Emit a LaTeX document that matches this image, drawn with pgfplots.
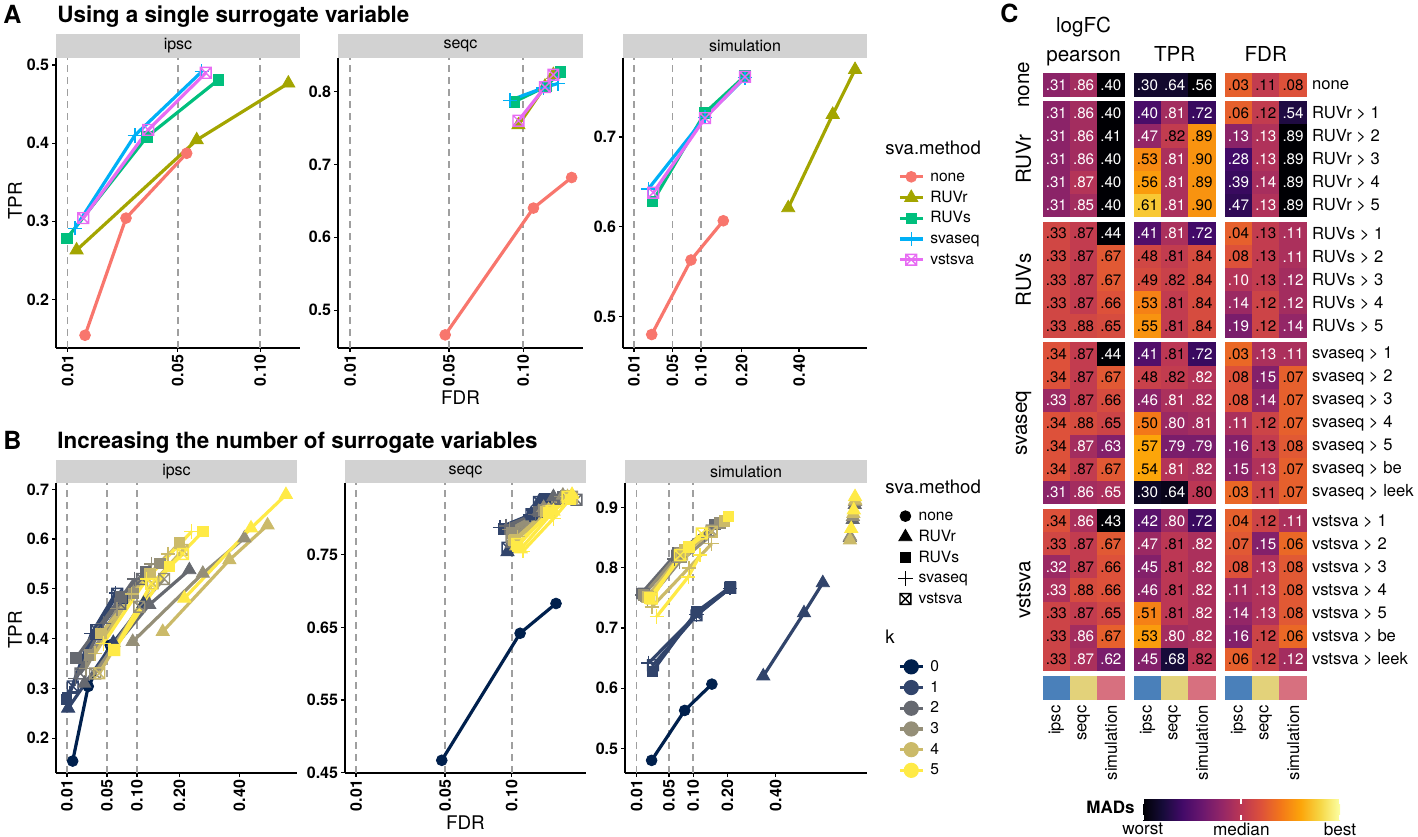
\documentclass[border=0pt]{standalone}
\usepackage{pgfplots}
\pgfplotsset{compat=1.18}
\usepackage{pgfplotstable}
\usepackage{fontspec}
\setmainfont{TeX Gyre Heros}

\definecolor{stripgray}{HTML}{D2D2D2}
\definecolor{cnone}{HTML}{F8766D}
\definecolor{cruvr}{HTML}{A3A500}
\definecolor{cruvs}{HTML}{00BF7D}
\definecolor{csva}{HTML}{00B0F6}
\definecolor{cvst}{HTML}{E76BF3}
\definecolor{k0c}{HTML}{00204D}
\definecolor{k1c}{HTML}{31446B}
\definecolor{k2c}{HTML}{666970}
\definecolor{k3c}{HTML}{958F78}
\definecolor{k4c}{HTML}{CBBA69}
\definecolor{k5c}{HTML}{FFEA46}
\definecolor{ipscb}{HTML}{4A80BA}
\definecolor{seqcy}{HTML}{E3D27A}
\definecolor{simp}{HTML}{D7707F}

\newcommand\tickf{\fontsize{8}{9}\selectfont\bfseries}
\newcommand\stripf{\fontsize{8}{9}\selectfont}
\newcommand\labf{\fontsize{9.4}{11}\selectfont}
\newcommand\legf{\fontsize{7.8}{9}\selectfont}
\newcommand\legtf{\fontsize{9.3}{11}\selectfont}
\newcommand\titf{\fontsize{11.2}{13}\selectfont\bfseries}
\newcommand\letf{\fontsize{12.5}{14}\selectfont\bfseries}
\newcommand\hmf{\fontsize{7.6}{9}\selectfont}
\newcommand\hml{\fontsize{8.3}{10}\selectfont}
\newcommand\hmh{\fontsize{10.3}{12}\selectfont}
\newcommand\cbf{\fontsize{8.6}{10}\selectfont}

\pgfdeclareplotmark{sqx}{%
  \pgfpathrectangle{\pgfqpoint{-\pgfplotmarksize}{-\pgfplotmarksize}}{\pgfqpoint{2\pgfplotmarksize}{2\pgfplotmarksize}}%
  \pgfpathmoveto{\pgfqpoint{-\pgfplotmarksize}{-\pgfplotmarksize}}%
  \pgfpathlineto{\pgfqpoint{\pgfplotmarksize}{\pgfplotmarksize}}%
  \pgfpathmoveto{\pgfqpoint{-\pgfplotmarksize}{\pgfplotmarksize}}%
  \pgfpathlineto{\pgfqpoint{\pgfplotmarksize}{-\pgfplotmarksize}}%
  \pgfusepathqstroke}
\pgfdeclareplotmark{cell}{%
  \pgfpathrectangle{\pgfqpoint{-6.85pt}{-5.83pt}}{\pgfqpoint{13.7pt}{11.66pt}}%
  \pgfusepathqfill}

\pgfplotsset{
  /pgf/number format/assume math mode=true,
  colormap={inferno}{rgb255=(0,0,4) rgb255=(22,11,57) rgb255=(66,10,104) rgb255=(106,23,110) rgb255=(147,38,103) rgb255=(188,55,84) rgb255=(221,81,58) rgb255=(243,120,25) rgb255=(252,165,10) rgb255=(246,215,70) rgb255=(252,255,164)},
  facet/.style={
    scale only axis, clip=false,
    axis lines=left, axis line style={-, line width=0.75pt, black},
    tick align=outside, major tick length=1.8pt,
    tick style={black, line width=0.6pt},
    x coord trafo/.code={\pgfmathparse{sqrt(##1)}},
    xticklabel style={rotate=90, anchor=east, font=\tickf, inner sep=1.5pt},
    yticklabel style={font=\tickf, inner sep=1.5pt},
    extra x ticks={0.01,0.05,0.1}, extra x tick labels={},
    extra x tick style={grid=major, major tick length=0pt},
    major grid style={gray!75, line width=0.8pt, dash pattern=on 3.4pt off 2.6pt},
    ylabel style={font=\labf, anchor=center},
    xlabel style={font=\labf, anchor=center},
    every axis title shift=0pt,
    title style={at={(0.5,1)}, anchor=south, fill=stripgray, inner sep=0pt, outer sep=0pt, font=\stripf},
    legend image code/.code={\draw[mark repeat=2, mark phase=2, ##1] plot coordinates {(0pt,0pt) (5.75pt,0pt) (11.5pt,0pt)};},
    legend style={draw=none, fill=none, inner sep=0pt, outer sep=0pt, font=\legf, row sep=2.85pt,
      nodes={inner xsep=3pt, inner ysep=0pt, text height=6pt, text depth=1.5pt}},
    legend cell align=left,
  },
  strip/.style n args={3}{title={#1}, title style={minimum width=#2, minimum height=#3}},
  ln/.style={line width=1.6pt, forget plot},
  mnone/.style={mark=*, mark size=2.7pt, mark options={line width=0.4pt, solid}},
  mruvr/.style={mark=triangle*, mark size=3.8pt, mark options={line width=0.4pt, solid}},
  mruvs/.style={mark=square*, mark size=2.6pt, mark options={line width=0.4pt, solid}},
  msva/.style={mark=+, mark size=3.6pt, mark options={line width=0.7pt, solid}},
  mvst/.style={mark=sqx, mark size=2.7pt, mark options={line width=0.7pt, solid}},
}

% x y m(colour value 0 worst..1 best) w(1 = white text) lbl
\pgfplotstableread{
x y m w lbl
0.5 0.5 0.38 1 .31
1.5 0.5 0.44 1 .86
2.5 0.5 0.00 1 .40
3.842 0.5 0.08 1 .30
4.842 0.5 0.08 1 .64
5.842 0.5 0.00 1 .56
7.184 0.5 0.64 0 .03
8.184 0.5 0.52 0 .11
9.184 0.5 0.60 0 .08
0.5 1.72 0.38 1 .31
1.5 1.72 0.44 1 .86
2.5 1.72 0.00 1 .40
3.842 1.72 0.22 1 .40
4.842 1.72 0.44 1 .81
5.842 1.72 0.18 1 .72
7.184 1.72 0.64 0 .06
8.184 1.72 0.52 0 .12
9.184 1.72 0.12 1 .54
0.5 2.72 0.38 1 .31
1.5 2.72 0.44 1 .86
2.5 2.72 0.00 1 .41
3.842 2.72 0.40 1 .47
4.842 2.72 0.52 0 .82
5.842 2.72 0.76 0 .89
7.184 2.72 0.38 1 .13
8.184 2.72 0.47 1 .13
9.184 2.72 0.00 1 .89
0.5 3.72 0.38 1 .31
1.5 3.72 0.44 1 .86
2.5 3.72 0.00 1 .40
3.842 3.72 0.74 0 .53
4.842 3.72 0.46 1 .81
5.842 3.72 0.76 0 .90
7.184 3.72 0.20 1 .28
8.184 3.72 0.47 1 .13
9.184 3.72 0.00 1 .89
0.5 4.72 0.38 1 .31
1.5 4.72 0.48 1 .87
2.5 4.72 0.00 1 .40
3.842 4.72 0.78 0 .56
4.842 4.72 0.46 1 .81
5.842 4.72 0.76 0 .89
7.184 4.72 0.18 1 .39
8.184 4.72 0.45 1 .14
9.184 4.72 0.00 1 .89
0.5 5.72 0.38 1 .31
1.5 5.72 0.44 1 .85
2.5 5.72 0.00 1 .40
3.842 5.72 0.87 0 .61
4.842 5.72 0.46 1 .81
5.842 5.72 0.76 0 .90
7.184 5.72 0.16 1 .47
8.184 5.72 0.47 1 .13
9.184 5.72 0.00 1 .89
0.5 6.94 0.56 0 .33
1.5 6.94 0.52 0 .87
2.5 6.94 0.00 1 .44
3.842 6.94 0.24 1 .41
4.842 6.94 0.46 1 .81
5.842 6.94 0.20 1 .72
7.184 6.94 0.64 0 .04
8.184 6.94 0.52 0 .13
9.184 6.94 0.46 1 .11
0.5 7.94 0.56 0 .33
1.5 7.94 0.52 0 .87
2.5 7.94 0.62 0 .67
3.842 7.94 0.56 0 .48
4.842 7.94 0.52 0 .81
5.842 7.94 0.58 0 .84
7.184 7.94 0.60 0 .08
8.184 7.94 0.52 0 .13
9.184 7.94 0.46 1 .11
0.5 8.94 0.56 0 .33
1.5 8.94 0.52 0 .87
2.5 8.94 0.62 0 .67
3.842 8.94 0.58 0 .49
4.842 8.94 0.54 0 .82
5.842 8.94 0.58 0 .84
7.184 8.94 0.48 1 .10
8.184 8.94 0.52 0 .13
9.184 8.94 0.44 1 .12
0.5 9.94 0.56 0 .33
1.5 9.94 0.52 0 .87
2.5 9.94 0.60 0 .66
3.842 9.94 0.72 0 .53
4.842 9.94 0.52 0 .81
5.842 9.94 0.58 0 .84
7.184 9.94 0.42 1 .14
8.184 9.94 0.55 0 .12
9.184 9.94 0.44 1 .12
0.5 10.94 0.56 0 .33
1.5 10.94 0.56 0 .88
2.5 10.94 0.58 0 .65
3.842 10.94 0.76 0 .55
4.842 10.94 0.52 0 .81
5.842 10.94 0.58 0 .84
7.184 10.94 0.34 1 .19
8.184 10.94 0.55 0 .12
9.184 10.94 0.40 1 .14
0.5 12.16 0.60 0 .34
1.5 12.16 0.52 0 .87
2.5 12.16 0.00 1 .44
3.842 12.16 0.24 1 .41
4.842 12.16 0.50 0 .81
5.842 12.16 0.18 1 .72
7.184 12.16 0.66 0 .03
8.184 12.16 0.46 1 .13
9.184 12.16 0.46 1 .11
0.5 13.16 0.60 0 .34
1.5 13.16 0.52 0 .87
2.5 13.16 0.62 0 .67
3.842 13.16 0.54 0 .48
4.842 13.16 0.52 0 .82
5.842 13.16 0.48 1 .82
7.184 13.16 0.60 0 .08
8.184 13.16 0.36 1 .15
9.184 13.16 0.64 0 .07
0.5 14.16 0.42 1 .33
1.5 14.16 0.52 0 .87
2.5 14.16 0.58 0 .66
3.842 14.16 0.38 1 .46
4.842 14.16 0.46 1 .81
5.842 14.16 0.46 1 .82
7.184 14.16 0.60 0 .08
8.184 14.16 0.40 1 .14
9.184 14.16 0.64 0 .07
0.5 15.16 0.60 0 .34
1.5 15.16 0.58 0 .88
2.5 15.16 0.55 0 .65
3.842 15.16 0.70 0 .50
4.842 15.16 0.42 1 .80
5.842 15.16 0.44 1 .81
7.184 15.16 0.46 1 .11
8.184 15.16 0.55 0 .12
9.184 15.16 0.64 0 .07
0.5 16.16 0.60 0 .34
1.5 16.16 0.44 1 .87
2.5 16.16 0.36 1 .63
3.842 16.16 0.80 0 .57
4.842 16.16 0.34 1 .79
5.842 16.16 0.34 1 .79
7.184 16.16 0.36 1 .16
8.184 16.16 0.52 0 .13
9.184 16.16 0.62 0 .08
0.5 17.16 0.60 0 .34
1.5 17.16 0.52 0 .87
2.5 17.16 0.62 0 .67
3.842 17.16 0.80 0 .54
4.842 17.16 0.48 1 .81
5.842 17.16 0.46 1 .82
7.184 17.16 0.38 1 .15
8.184 17.16 0.47 1 .13
9.184 17.16 0.64 0 .07
0.5 18.16 0.38 1 .31
1.5 18.16 0.44 1 .86
2.5 18.16 0.46 1 .65
3.842 18.16 0.06 1 .30
4.842 18.16 0.04 1 .64
5.842 18.16 0.50 0 .80
7.184 18.16 0.66 0 .03
8.184 18.16 0.55 0 .11
9.184 18.16 0.64 0 .07
0.5 19.38 0.60 0 .34
1.5 19.38 0.46 1 .86
2.5 19.38 0.00 1 .43
3.842 19.38 0.26 1 .42
4.842 19.38 0.42 1 .80
5.842 19.38 0.18 1 .72
7.184 19.38 0.64 0 .04
8.184 19.38 0.55 0 .12
9.184 19.38 0.46 1 .11
0.5 20.38 0.56 0 .33
1.5 20.38 0.52 0 .87
2.5 20.38 0.62 0 .67
3.842 20.38 0.42 1 .47
4.842 20.38 0.50 0 .81
5.842 20.38 0.46 1 .82
7.184 20.38 0.62 0 .07
8.184 20.38 0.36 1 .15
9.184 20.38 0.66 0 .06
0.5 21.38 0.42 1 .32
1.5 21.38 0.52 0 .87
2.5 21.38 0.60 0 .66
3.842 21.38 0.36 1 .45
4.842 21.38 0.50 0 .81
5.842 21.38 0.46 1 .82
7.184 21.38 0.60 0 .08
8.184 21.38 0.47 1 .13
9.184 21.38 0.62 0 .08
0.5 22.38 0.46 1 .33
1.5 22.38 0.58 0 .88
2.5 22.38 0.60 0 .66
3.842 22.38 0.38 1 .46
4.842 22.38 0.50 0 .81
5.842 22.38 0.46 1 .82
7.184 22.38 0.44 1 .11
8.184 22.38 0.47 1 .13
9.184 22.38 0.62 0 .08
0.5 23.38 0.55 0 .33
1.5 23.38 0.52 0 .87
2.5 23.38 0.56 0 .65
3.842 23.38 0.72 0 .51
4.842 23.38 0.50 0 .81
5.842 23.38 0.46 1 .82
7.184 23.38 0.40 1 .14
8.184 23.38 0.47 1 .13
9.184 23.38 0.62 0 .08
0.5 24.38 0.55 0 .33
1.5 24.38 0.44 1 .86
2.5 24.38 0.64 0 .67
3.842 24.38 0.78 0 .53
4.842 24.38 0.44 1 .80
5.842 24.38 0.46 1 .82
7.184 24.38 0.36 1 .16
8.184 24.38 0.55 0 .12
9.184 24.38 0.66 0 .06
0.5 25.38 0.55 0 .33
1.5 25.38 0.46 1 .87
2.5 25.38 0.34 1 .62
3.842 25.38 0.36 1 .45
4.842 25.38 0.10 1 .68
5.842 25.38 0.50 0 .82
7.184 25.38 0.64 0 .06
8.184 25.38 0.55 0 .12
9.184 25.38 0.44 1 .12
}\heat

\pgfplotstableread{
x y c
0.5 26.62 a
1.5 26.62 b
2.5 26.62 c
3.842 26.62 a
4.842 26.62 b
5.842 26.62 c
7.184 26.62 a
8.184 26.62 b
9.184 26.62 c
}\hmbot

\begin{document}
\begin{tikzpicture}
\useasboundingbox (0,0) rectangle (709pt,418pt);

\node[anchor=base west, font=\letf, inner sep=0pt] at (1.5pt,406.3pt) {A};
\node[anchor=base west, font=\titf, inner sep=0pt] at (28.5pt,406.5pt) {Using a single surrogate variable};
\node[anchor=base west, font=\letf, inner sep=0pt] at (1.5pt,193.3pt) {B};
\node[anchor=base west, font=\titf, inner sep=0pt] at (28.5pt,193.5pt) {Increasing the number of surrogate variables};
\node[anchor=base west, font=\letf, inner sep=0pt] at (500pt,406.6pt) {C};

\node[anchor=base west, font=\legtf, inner sep=0pt] at (442.5pt,340.5pt) {sva.method};
\node[anchor=base west, font=\legtf, inner sep=0pt] at (442.5pt,171.5pt) {sva.method};
\node[anchor=base west, font=\legtf, inner sep=0pt] at (442.5pt,96.3pt) {k};
\node[anchor=base east, font=\fontsize{8.5}{10}\selectfont\bfseries, inner sep=0pt] at (567.5pt,11.5pt) {MADs};

% ================= Panel A =================
\begin{axis}[facet, at={(28pt,389pt)}, anchor=north west, width=122pt, height=145pt,
  xmin=0.00755, xmax=0.1303, ymin=0.1377, ymax=0.509,
  xtick={0.01,0.05,0.1}, xticklabels={0.01,0.05,0.10},
  ytick={0.2,0.3,0.4,0.5}, yticklabels={0.2,0.3,0.4,0.5},
  strip={ipsc}{122pt}{12pt},
  ylabel={TPR}, ylabel style={at={(axis description cs:-0.168,0.507)}}]
\addplot[ln, cnone, mnone] coordinates {(0.01428,0.154) (0.0274,0.304) (0.0546,0.387)};
\addplot[ln, cruvr, mruvr] coordinates {(0.0121,0.263) (0.060,0.404) (0.121,0.4766)};
\addplot[ln, cruvs, mruvs] coordinates {(0.0098,0.278) (0.0357,0.408) (0.0725,0.481)};
\addplot[ln, csva, msva] coordinates {(0.0117,0.291) (0.0308,0.410) (0.0628,0.4915)};
\addplot[ln, cvst, mvst] coordinates {(0.0138,0.304) (0.0363,0.417) (0.0651,0.490)};
\end{axis}

\begin{axis}[facet, at={(169pt,389pt)}, anchor=north west, width=122.5pt, height=145pt,
  xmin=0.007225, xmax=0.1529, ymin=0.448, ymax=0.846,
  xtick={0.01,0.05,0.1}, xticklabels={0.01,0.05,0.10},
  ytick={0.5,0.6,0.7,0.8}, yticklabels={0.5,0.6,0.7,0.8},
  strip={seqc}{122.5pt}{12pt},
  xlabel={FDR}, xlabel style={at={(axis description cs:0.5,-0.171)}}]
\addplot[ln, cnone, mnone] coordinates {(0.0479,0.466) (0.1083,0.640) (0.142,0.682)};
\addplot[ln, cruvr, mruvr] coordinates {(0.0963,0.754) (0.118,0.807) (0.1253,0.823)};
\addplot[ln, cruvs, mruvs] coordinates {(0.0933,0.786) (0.119,0.807) (0.1314,0.827)};
\addplot[ln, csva, msva] coordinates {(0.090,0.788) (0.1167,0.805) (0.1293,0.811)};
\addplot[ln, cvst, mvst] coordinates {(0.0963,0.760) (0.118,0.806) (0.1253,0.823)};
\end{axis}

\begin{axis}[facet, at={(311.5pt,389pt)}, anchor=north west, width=122pt, height=145pt,
  xmin=0.00416, xmax=0.7252, ymin=0.465, ymax=0.788,
  xtick={0.01,0.05,0.1,0.2,0.4}, xticklabels={0.01,0.05,0.10,0.20,0.40},
  ytick={0.5,0.6,0.7}, yticklabels={0.5,0.6,0.7},
  strip={simulation}{122pt}{12pt},
  legend style={at={(1.1277,0.6161)}, anchor=north west}]
\addplot[ln, cnone, mnone] coordinates {(0.0247,0.480) (0.0806,0.563) (0.1506,0.6067)};
\addplot[ln, cruvr, mruvr] coordinates {(0.357,0.621) (0.549,0.725) (0.661,0.775)};
\addplot[ln, cruvs, mruvs] coordinates {(0.0257,0.628) (0.1083,0.727) (0.2098,0.768)};
\addplot[ln, csva, msva] coordinates {(0.0213,0.642) (0.1083,0.722) (0.2098,0.766)};
\addplot[ln, cvst, mvst] coordinates {(0.0263,0.638) (0.1083,0.721) (0.2098,0.767)};
\addlegendimage{cnone, line width=1.6pt, mnone}\addlegendentry{none}
\addlegendimage{cruvr, line width=1.6pt, mruvr}\addlegendentry{RUVr}
\addlegendimage{cruvs, line width=1.6pt, mruvs}\addlegendentry{RUVs}
\addlegendimage{csva, line width=1.6pt, msva}\addlegendentry{svaseq}
\addlegendimage{cvst, line width=1.6pt, mvst}\addlegendentry{vstsva}
\end{axis}

% ================= Panel B =================
\begin{axis}[facet, at={(28pt,176.5pt)}, anchor=north west, width=120.5pt, height=145pt,
  xmin=0.004356, xmax=0.6572, ymin=0.130, ymax=0.7127,
  xtick={0.01,0.05,0.1,0.2,0.4}, xticklabels={0.01,0.05,0.10,0.20,0.40},
  ytick={0.2,0.3,0.4,0.5,0.6,0.7}, yticklabels={0.2,0.3,0.4,0.5,0.6,0.7},
  strip={ipsc}{120.5pt}{11.5pt},
  ylabel={TPR}, ylabel style={at={(axis description cs:-0.17,0.493)}}]
\addplot[ln, k0c, mnone] coordinates {(0.0138,0.154) (0.0274,0.304) (0.0546,0.387)};
\addplot[ln, k1c, mruvr] coordinates {(0.0107,0.260) (0.059,0.392) (0.113,0.470)};
\addplot[ln, k1c, mruvs] coordinates {(0.0098,0.278) (0.0357,0.408) (0.0725,0.481)};
\addplot[ln, k1c, msva] coordinates {(0.0117,0.291) (0.0308,0.410) (0.0628,0.4915)};
\addplot[ln, k1c, mvst] coordinates {(0.0138,0.304) (0.0363,0.417) (0.0651,0.490)};
\addplot[ln, k2c, mruvr] coordinates {(0.0236,0.310) (0.1255,0.468) (0.2285,0.538)};
\addplot[ln, k2c, mruvs] coordinates {(0.0163,0.361) (0.0713,0.484) (0.1184,0.535)};
\addplot[ln, k2c, msva] coordinates {(0.016,0.320) (0.045,0.430) (0.095,0.520)};
\addplot[ln, k2c, mvst] coordinates {(0.020,0.330) (0.070,0.470) (0.110,0.520)};
\addplot[ln, k3c, mruvr] coordinates {(0.0918,0.394) (0.270,0.531) (0.420,0.602)};
\addplot[ln, k3c, mruvs] coordinates {(0.0286,0.367) (0.093,0.491) (0.150,0.551)};
\addplot[ln, k3c, msva] coordinates {(0.025,0.340) (0.065,0.460) (0.130,0.550)};
\addplot[ln, k3c, mvst] coordinates {(0.035,0.330) (0.1046,0.464) (0.160,0.520)};
\addplot[ln, k4c, mruvr] coordinates {(0.1566,0.414) (0.362,0.558) (0.518,0.628)};
\addplot[ln, k4c, mruvs] coordinates {(0.042,0.411) (0.127,0.530) (0.200,0.592)};
\addplot[ln, k4c, msva] coordinates {(0.035,0.370) (0.090,0.490) (0.170,0.570)};
\addplot[ln, k4c, mvst] coordinates {(0.040,0.3305) (0.133,0.511) (0.209,0.578)};
\addplot[ln, k5c, mruvr] coordinates {(0.214,0.481) (0.447,0.622) (0.603,0.689)};
\addplot[ln, k5c, mruvs] coordinates {(0.0605,0.377) (0.173,0.545) (0.270,0.615)};
\addplot[ln, k5c, msva] coordinates {(0.045,0.390) (0.120,0.520) (0.235,0.615)};
\addplot[ln, k5c, mvst] coordinates {(0.0605,0.377) (0.130,0.510) (0.210,0.570)};
\end{axis}

\begin{axis}[facet, at={(172.5pt,176.5pt)}, anchor=north west, width=120.5pt, height=145pt,
  xmin=0.00717, xmax=0.1759, ymin=0.4495, ymax=0.849,
  xtick={0.01,0.05,0.1}, xticklabels={0.01,0.05,0.10},
  ytick={0.45,0.55,0.65,0.75}, yticklabels={0.45,0.55,0.65,0.75},
  strip={seqc}{120.5pt}{11.5pt},
  xlabel={FDR}, xlabel style={at={(axis description cs:0.5,-0.171)}},
  legend style={at={(2.2954,0.3919)}, anchor=north west}]
\addplot[ln, k0c, mnone] coordinates {(0.048,0.467) (0.1075,0.642) (0.1427,0.683)};
\addplot[ln, k1c, mruvr] coordinates {(0.0963,0.754) (0.118,0.807) (0.1253,0.823)};
\addplot[ln, k1c, mruvs] coordinates {(0.0933,0.786) (0.119,0.807) (0.1314,0.827)};
\addplot[ln, k1c, msva] coordinates {(0.090,0.788) (0.1167,0.805) (0.1293,0.811)};
\addplot[ln, k1c, mvst] coordinates {(0.0963,0.760) (0.118,0.806) (0.1253,0.823)};
\addplot[ln, k2c, mruvr] coordinates {(0.100,0.765) (0.125,0.810) (0.140,0.830)};
\addplot[ln, k2c, mruvs] coordinates {(0.098,0.785) (0.125,0.810) (0.150,0.830)};
\addplot[ln, k2c, msva] coordinates {(0.095,0.790) (0.122,0.806) (0.140,0.820)};
\addplot[ln, k2c, mvst] coordinates {(0.100,0.770) (0.130,0.810) (0.165,0.826)};
\addplot[ln, k3c, mruvr] coordinates {(0.102,0.770) (0.130,0.815) (0.150,0.832)};
\addplot[ln, k3c, mruvs] coordinates {(0.100,0.780) (0.130,0.812) (0.155,0.832)};
\addplot[ln, k3c, msva] coordinates {(0.098,0.785) (0.130,0.810) (0.148,0.830)};
\addplot[ln, k3c, mvst] coordinates {(0.100,0.775) (0.135,0.812) (0.160,0.830)};
\addplot[ln, k4c, mruvr] coordinates {(0.104,0.762) (0.135,0.812) (0.155,0.830)};
\addplot[ln, k4c, mruvs] coordinates {(0.102,0.770) (0.132,0.810) (0.160,0.828)};
\addplot[ln, k4c, msva] coordinates {(0.105,0.775) (0.135,0.810) (0.155,0.830)};
\addplot[ln, k4c, mvst] coordinates {(0.103,0.770) (0.135,0.810) (0.158,0.828)};
\addplot[ln, k5c, mruvr] coordinates {(0.108,0.758) (0.140,0.810) (0.160,0.833)};
\addplot[ln, k5c, mruvs] coordinates {(0.105,0.762) (0.135,0.808) (0.158,0.826)};
\addplot[ln, k5c, msva] coordinates {(0.110,0.755) (0.140,0.800) (0.160,0.830)};
\addplot[ln, k5c, mvst] coordinates {(0.105,0.765) (0.138,0.810) (0.155,0.830)};
\addlegendimage{k0c, line width=1.6pt, mark=*, mark size=3pt}\addlegendentry{0}
\addlegendimage{k1c, line width=1.6pt, mark=*, mark size=3pt}\addlegendentry{1}
\addlegendimage{k2c, line width=1.6pt, mark=*, mark size=3pt}\addlegendentry{2}
\addlegendimage{k3c, line width=1.6pt, mark=*, mark size=3pt}\addlegendentry{3}
\addlegendimage{k4c, line width=1.6pt, mark=*, mark size=3pt}\addlegendentry{4}
\addlegendimage{k5c, line width=1.6pt, mark=*, mark size=3pt}\addlegendentry{5}
\end{axis}

\begin{axis}[facet, at={(312.5pt,176.5pt)}, anchor=north west, width=121pt, height=145pt,
  xmin=0.003047, xmax=0.9651, ymin=0.459, ymax=0.941,
  xtick={0.01,0.05,0.1,0.2,0.4}, xticklabels={0.01,0.05,0.10,0.20,0.40},
  ytick={0.5,0.6,0.7,0.8,0.9}, yticklabels={0.5,0.6,0.7,0.8,0.9},
  strip={simulation}{121pt}{11.5pt},
  legend style={at={(1.1289,0.9116)}, anchor=north west}]
\addplot[ln, k0c, mnone] coordinates {(0.0247,0.480) (0.0806,0.563) (0.1506,0.6067)};
\addplot[ln, k1c, mruvr] coordinates {(0.342,0.620) (0.549,0.725) (0.661,0.775)};
\addplot[ln, k1c, mruvs] coordinates {(0.0257,0.628) (0.1083,0.727) (0.2098,0.768)};
\addplot[ln, k1c, msva] coordinates {(0.0213,0.642) (0.1083,0.722) (0.2098,0.766)};
\addplot[ln, k1c, mvst] coordinates {(0.0263,0.638) (0.1083,0.721) (0.2098,0.767)};
\addplot[ln, k2c, mruvr] coordinates {(0.840,0.850) (0.860,0.880) (0.875,0.905)};
\addplot[ln, k2c, mruvs] coordinates {(0.0142,0.758) (0.065,0.825) (0.160,0.872)};
\addplot[ln, k2c, msva] coordinates {(0.015,0.755) (0.060,0.815) (0.130,0.855)};
\addplot[ln, k2c, mvst] coordinates {(0.016,0.757) (0.065,0.820) (0.150,0.860)};
\addplot[ln, k3c, mruvr] coordinates {(0.842,0.852) (0.862,0.885) (0.877,0.910)};
\addplot[ln, k3c, mruvs] coordinates {(0.016,0.755) (0.070,0.825) (0.175,0.875)};
\addplot[ln, k3c, msva] coordinates {(0.020,0.745) (0.070,0.810) (0.140,0.850)};
\addplot[ln, k3c, mvst] coordinates {(0.020,0.752) (0.070,0.820) (0.150,0.862)};
\addplot[ln, k4c, mruvr] coordinates {(0.841,0.846) (0.865,0.890) (0.878,0.912)};
\addplot[ln, k4c, mruvs] coordinates {(0.020,0.752) (0.080,0.830) (0.190,0.878)};
\addplot[ln, k4c, msva] coordinates {(0.025,0.735) (0.090,0.800) (0.150,0.840)};
\addplot[ln, k4c, mvst] coordinates {(0.024,0.750) (0.075,0.822) (0.150,0.860)};
\addplot[ln, k5c, mruvr] coordinates {(0.850,0.865) (0.868,0.896) (0.877,0.918)};
\addplot[ln, k5c, mruvs] coordinates {(0.022,0.750) (0.090,0.835) (0.2034,0.885)};
\addplot[ln, k5c, msva] coordinates {(0.0312,0.719) (0.0886,0.785) (0.117,0.821)};
\addplot[ln, k5c, mvst] coordinates {(0.0248,0.749) (0.0708,0.821) (0.1218,0.857)};
\addlegendimage{black, only marks, mnone}\addlegendentry{none}
\addlegendimage{black, only marks, mruvr}\addlegendentry{RUVr}
\addlegendimage{black, only marks, mruvs}\addlegendentry{RUVs}
\addlegendimage{black, only marks, msva}\addlegendentry{svaseq}
\addlegendimage{black, only marks, mvst}\addlegendentry{vstsva}
\end{axis}

% ================= Panel C =================
\begin{axis}[at={(521.35pt,381.35pt)}, anchor=north west, scale only axis,
  width=132pt, height=313.35pt,
  xmin=0, xmax=9.684, ymin=0, ymax=27.14, y dir=reverse,
  clip=false, axis line style={draw=none}, major tick length=0pt,
  xtick={0.5,1.5,2.5,3.842,4.842,5.842,7.184,8.184,9.184},
  xticklabels={ipsc,seqc,simulation,ipsc,seqc,simulation,ipsc,seqc,simulation},
  xticklabel pos=lower,
  xticklabel style={rotate=90, anchor=east, font=\hml, inner sep=2.5pt},
  ytick={0.5,1.72,2.72,3.72,4.72,5.72,6.94,7.94,8.94,9.94,10.94,12.16,13.16,14.16,15.16,16.16,17.16,18.16,19.38,20.38,21.38,22.38,23.38,24.38,25.38},
  yticklabels={none,RUVr > 1,RUVr > 2,RUVr > 3,RUVr > 4,RUVr > 5,RUVs > 1,RUVs > 2,RUVs > 3,RUVs > 4,RUVs > 5,svaseq > 1,svaseq > 2,svaseq > 3,svaseq > 4,svaseq > 5,svaseq > be,svaseq > leek,vstsva > 1,vstsva > 2,vstsva > 3,vstsva > 4,vstsva > 5,vstsva > be,vstsva > leek},
  yticklabel pos=right,
  yticklabel style={font=\hml, anchor=west, inner sep=2.5pt},
  colormap name=inferno, point meta min=0, point meta max=1,
  colorbar horizontal,
  colorbar style={at={(parent axis.south west)}, anchor=north west, xshift=50pt, yshift=-41.15pt,
    width=98.65pt, height=10.5pt, axis line style={draw=none},
    xtick={0,0.5,1}, xticklabels={worst,median,best},
    xticklabel style={font=\cbf, text=black, inner sep=1pt},
    major tick length=2.5pt, tick style={white, line width=1pt}, tick align=inside},
]
\addplot[scatter, only marks, mark=cell, point meta=explicit,
  scatter/use mapped color={draw=none, fill=mapped color}]
  table[x=x, y=y, meta=m] {\heat};
\addplot[only marks, mark=none, point meta=explicit symbolic,
  nodes near coords, y filter/.expression={\thisrow{w}>0.5 ? y : nan},
  nodes near coords style={anchor=center, font=\hmf, text=white, inner sep=0pt}]
  table[x=x, y=y, meta=lbl] {\heat};
\addplot[only marks, mark=none, point meta=explicit symbolic,
  nodes near coords, y filter/.expression={\thisrow{w}<0.5 ? y : nan},
  nodes near coords style={anchor=center, font=\hmf, text=black, inner sep=0pt}]
  table[x=x, y=y, meta=lbl] {\heat};
\addplot[scatter, only marks, point meta=explicit symbolic,
  scatter/classes={a={mark=cell, draw=none, fill=ipscb}, b={mark=cell, draw=none, fill=seqcy}, c={mark=cell, draw=none, fill=simp}}]
  table[x=x, y=y, meta=c] {\hmbot};
\node[rotate=90, font=\hmh] at (axis cs:-0.7,0.5) {none};
\node[rotate=90, font=\hmh] at (axis cs:-0.7,3.72) {RUVr};
\node[rotate=90, font=\hmh] at (axis cs:-0.7,8.94) {RUVs};
\node[rotate=90, font=\hmh] at (axis cs:-0.7,15.16) {svaseq};
\node[rotate=90, font=\hmh] at (axis cs:-0.7,22.38) {vstsva};
\node[anchor=base, font=\hmh, inner sep=0pt] at (axis cs:1.5,-1.76) {logFC};
\node[anchor=base, font=\hmh, inner sep=0pt] at (axis cs:1.5,-0.5) {pearson};
\node[anchor=base, font=\hmh, inner sep=0pt] at (axis cs:4.842,-0.5) {TPR};
\node[anchor=base, font=\hmh, inner sep=0pt] at (axis cs:8.184,-0.5) {FDR};
\end{axis}
\end{tikzpicture}
\end{document}
